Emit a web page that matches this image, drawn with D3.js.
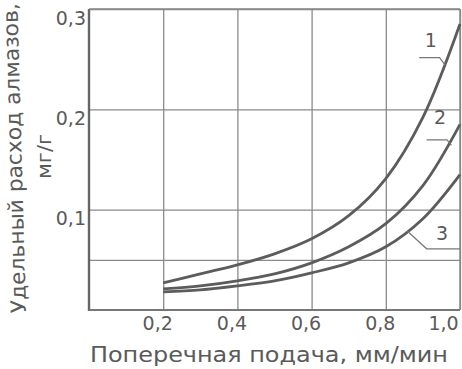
<!DOCTYPE html>
<html><head><meta charset="utf-8">
<script src="https://cdn.jsdelivr.net/npm/d3@7"></script>
<style>
html,body{margin:0;padding:0;background:#fff;}
svg{display:block;}
text{font-family:"DejaVu Sans",sans-serif;fill:#5a5a5a;}
</style></head><body>
<svg id="c" width="462" height="369"></svg>
<script>
const feed = [0.2,0.3,0.4,0.5,0.6,0.7,0.8,0.9,1.0];
const curve1 = [0.027,0.036,0.045,0.056,0.071,0.094,0.131,0.192,0.285];
const curve2 = [0.021,0.024,0.029,0.036,0.047,0.063,0.086,0.124,0.185];
const curve3 = [0.018,0.020,0.024,0.029,0.037,0.047,0.063,0.091,0.135];
const seriesNames = ["1","2","3"];
const xTicks = [0.2,0.4,0.6,0.8,1.0];
const yTicks = [0.1,0.2,0.3];
const yGrid = [0.05,0.1,0.2,0.3];
const xTitle = "Поперечная подача, мм/мин";
const yTitle1 = "Удельный расход алмазов,";
const yTitle2 = "мг/г";

const svg = d3.select("#c");
const x = d3.scaleLinear().domain([0,1]).range([89,460]);
const y = d3.scaleLinear().domain([0,0.3]).range([310,9]);
const fmt = d => d3.format(".1f")(d).replace(".",",");
const grid = "#8a8a8a", ink = "#5a5a5a";

// vertical grid via axis
const gx = svg.append("g").attr("transform",`translate(0,${y(0)})`)
  .call(d3.axisBottom(x).tickValues(xTicks).tickSize(-(y(0)-y(0.3))).tickFormat(fmt));
gx.select(".domain").remove();
gx.selectAll(".tick line").attr("stroke",grid).attr("stroke-width",1.3);
gx.selectAll(".tick text").attr("font-size",19).attr("dy",0).attr("y",20)
  .attr("dx",d => d===1 ? -17 : -6)
  .attr("fill",ink).style("font-family","DejaVu Sans");

// horizontal grid via axis
const gy = svg.append("g").attr("transform",`translate(${x(0)},0)`)
  .call(d3.axisLeft(y).tickValues(yGrid).tickSize(-(x(1)-x(0))).tickFormat(d => yTicks.includes(d)?fmt(d):""));
gy.select(".domain").remove();
gy.selectAll(".tick line").attr("stroke",grid).attr("stroke-width",1.3);
gy.selectAll(".tick text").attr("font-size",19).attr("x",-3).attr("dy",15)
  .attr("fill",ink).style("font-family","DejaVu Sans");

// frame
svg.append("line").attr("x1",x(0)).attr("x2",x(0)).attr("y1",y(0.3)).attr("y2",y(0)+1)
  .attr("stroke","#666").attr("stroke-width",2.4);
svg.append("line").attr("x1",x(0)).attr("x2",x(1)).attr("y1",y(0)).attr("y2",y(0))
  .attr("stroke","#777").attr("stroke-width",2);
svg.append("line").attr("x1",x(0)).attr("x2",x(1)).attr("y1",y(0.3)).attr("y2",y(0.3))
  .attr("stroke","#888").attr("stroke-width",1.5);
svg.append("line").attr("x1",x(1)).attr("x2",x(1)).attr("y1",y(0.3)).attr("y2",y(0))
  .attr("stroke","#888").attr("stroke-width",1.5);

// curves
const line = d3.line().x(d=>x(d[0])).y(d=>y(d[1])).curve(d3.curveCatmullRom.alpha(0.5));
[curve1,curve2,curve3].forEach(s=>{
  svg.append("path").datum(feed.map((f,i)=>[f,s[i]])).attr("d",line)
    .attr("fill","none").attr("stroke","#5c5c5c").attr("stroke-width",2.8);
});

// labels with leaders
const lab = [
  {t:seriesNames[0], tx:0.905, ty:0.262, pts:[[0.89,0.2515],[0.945,0.2515],[0.96,0.244]]},
  {t:seriesNames[1], tx:0.93, ty:0.185, pts:[[0.91,0.1695],[0.965,0.1695],[0.977,0.164]]},
  {t:seriesNames[2], tx:0.935, ty:0.070, pts:[[0.857,0.079],[0.91,0.061],[1.0,0.061]]}
];
lab.forEach(l=>{
  svg.append("text").attr("x",x(l.tx)).attr("y",y(l.ty)).attr("font-size",19).text(l.t);
  svg.append("path").attr("d",d3.line().x(d=>x(d[0])).y(d=>y(d[1])).curve(d3.curveLinear)(l.pts))
    .attr("fill","none").attr("stroke","#777").attr("stroke-width",1.2);
});

// axis titles
svg.append("text").attr("x",90).attr("y",362).attr("font-size",21)
  .attr("textLength",358).attr("lengthAdjust","spacingAndGlyphs").text(xTitle);
svg.append("text").attr("transform","translate(26,313) rotate(-91.6)").attr("font-size",21)
  .attr("textLength",310).attr("lengthAdjust","spacingAndGlyphs").text(yTitle1);
svg.append("text").attr("transform","translate(51,179) rotate(-90)").attr("font-size",19)
  .attr("textLength",45).attr("lengthAdjust","spacingAndGlyphs").text(yTitle2);
</script></body></html>
